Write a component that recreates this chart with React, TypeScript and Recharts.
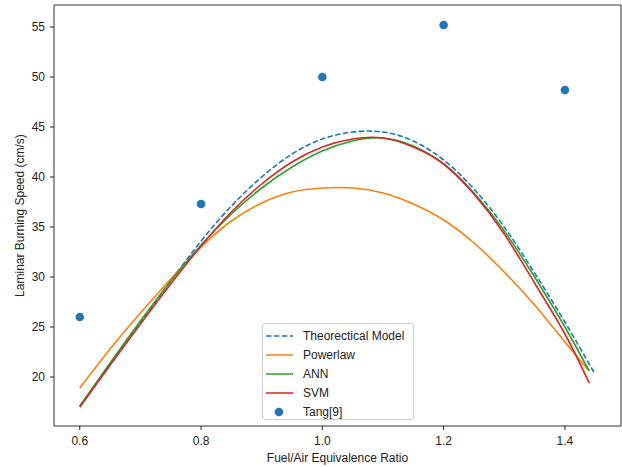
import {
  ComposedChart,
  Line,
  Scatter,
  XAxis,
  YAxis,
  ReferenceArea,
} from 'recharts'

const phi = [0.6, 0.65, 0.7, 0.75, 0.8, 0.85, 0.9, 0.95, 1.0, 1.05, 1.1, 1.15, 1.2, 1.25, 1.3, 1.35, 1.4, 1.44, 1.45]
const theoretical = [17.0, 21.2, 25.4, 29.6, 33.6, 37.1, 40.0, 42.3, 43.8, 44.5, 44.5, 43.6, 41.7, 38.8, 35.0, 30.4, 25.5, 21.3, 20.3]
const powerlaw = [18.9, 22.8, 26.4, 29.8, 33.0, 35.6, 37.4, 38.5, 38.9, 38.9, 38.4, 37.3, 35.7, 33.4, 30.5, 27.2, 23.5, 20.6, null]
const ann = [17.1, 21.4, 25.6, 29.6, 33.2, 36.3, 38.9, 41.0, 42.6, 43.6, 43.9, 43.1, 41.3, 38.4, 34.6, 30.0, 25.0, 20.6, null]
const svm = [17.0, 21.2, 25.3, 29.3, 33.1, 36.5, 39.3, 41.5, 43.0, 43.8, 43.9, 43.0, 41.3, 38.3, 34.3, 29.4, 24.3, 19.4, null]

const tangPhi = [0.6, 0.8, 1.0, 1.2, 1.4]
const tangSpeed = [26.0, 37.3, 50.0, 55.2, 48.7]

const xTicks = [0.6, 0.8, 1.0, 1.2, 1.4]
const yTicks = [20, 25, 30, 35, 40, 45, 50, 55]

const data = phi.map((x, i) => ({
  x,
  theoretical: theoretical[i],
  powerlaw: powerlaw[i],
  ann: ann[i],
  svm: svm[i],
}))
const tangData = tangPhi.map((x, i) => ({ x, tang: tangSpeed[i] }))

const X_MIN = 0.5575
const X_MAX = 1.4925
const Y_MIN = 15.1
const Y_MAX = 57.2

const FONT = '"Liberation Sans", Arial, Helvetica, sans-serif'
const tickStyle = { fontSize: 12, fill: '#222', fontFamily: FONT }

const legendItems = [
  { label: 'Theorectical Model', color: '#1f77b4', kind: 'dash' },
  { label: 'Powerlaw', color: '#ff7f0e', kind: 'line' },
  { label: 'ANN', color: '#2ca02c', kind: 'line' },
  { label: 'SVM', color: '#d62728', kind: 'line' },
  { label: 'Tang[9]', color: '#1f77b4', kind: 'dot' },
]

function LegendBox() {
  return (
    <div
      style={{
        position: 'absolute',
        left: 262,
        top: 323,
        width: 152,
        height: 97,
        border: '1px solid #d0d0d0',
        borderRadius: 3,
        background: 'rgba(255,255,255,0.85)',
        boxSizing: 'border-box',
        padding: '2px 0 0 0',
        fontFamily: FONT,
        fontSize: 12,
        color: '#222',
      }}
    >
      {legendItems.map((it) => (
        <div key={it.label} style={{ display: 'flex', alignItems: 'center', height: 19 }}>
          <svg width={40} height={12} style={{ flex: 'none' }}>
            {it.kind === 'dot' ? (
              <circle cx={16} cy={6} r={4.3} fill={it.color} />
            ) : (
              <line
                x1={3}
                x2={30}
                y1={6}
                y2={6}
                stroke={it.color}
                strokeWidth={1.5}
                strokeDasharray={it.kind === 'dash' ? '5.5 2.4' : undefined}
              />
            )}
          </svg>
          <span>{it.label}</span>
        </div>
      ))}
    </div>
  )
}

export default function App() {
  return (
    <div style={{ position: 'absolute', left: 0, top: 0, width: 622, height: 467, background: '#fff' }}>
      <ComposedChart width={622} height={467} data={data} margin={{ top: 5, right: 1, bottom: 0, left: 0 }}>
        <XAxis
          dataKey="x"
          type="number"
          domain={[X_MIN, X_MAX]}
          ticks={xTicks}
          tickFormatter={(v: number) => v.toFixed(1)}
          tick={tickStyle}
          tickSize={4}
          tickMargin={6}
          height={41}
          axisLine={false}
          tickLine={{ stroke: '#222' }}
          allowDataOverflow
          label={(props: any) => {
            const vb = props.viewBox
            return (
              <text
                x={vb.x + vb.width / 2}
                y={462}
                textAnchor="middle"
                fontSize={12}
                fill="#222"
                fontFamily={FONT}
              >
                Fuel/Air Equivalence Ratio
              </text>
            )
          }}
        />
        <YAxis
          type="number"
          domain={[Y_MIN, Y_MAX]}
          ticks={yTicks}
          tick={tickStyle}
          tickSize={4}
          tickMargin={5}
          width={54}
          axisLine={false}
          tickLine={{ stroke: '#222' }}
          allowDataOverflow
          label={(props: any) => {
            const vb = props.viewBox
            const cy = vb.y + vb.height / 2
            return (
              <text
                x={20}
                y={cy}
                textAnchor="middle"
                dominantBaseline="central"
                transform={`rotate(-90, 20, ${cy})`}
                fontSize={12}
                fill="#222"
                fontFamily={FONT}
              >
                Laminar Burning Speed (cm/s)
              </text>
            )
          }}
        />
        <Line
          type="natural"
          dataKey="theoretical"
          stroke="#1f77b4"
          strokeWidth={1.6}
          strokeDasharray="5.5 2.4"
          dot={false}
          isAnimationActive={false}
        />
        <Line type="natural" dataKey="powerlaw" stroke="#ff7f0e" strokeWidth={1.6} dot={false} isAnimationActive={false} />
        <Line type="natural" dataKey="ann" stroke="#2ca02c" strokeWidth={1.6} dot={false} isAnimationActive={false} />
        <Line type="natural" dataKey="svm" stroke="#d62728" strokeWidth={1.6} dot={false} isAnimationActive={false} />
        <Scatter
          data={tangData}
          dataKey="tang"
          fill="#1f77b4"
          shape={(p: any) => <circle cx={p.cx} cy={p.cy} r={4.3} fill="#1f77b4" />}
          isAnimationActive={false}
        />
        <ReferenceArea
          x1={X_MIN}
          x2={X_MAX}
          y1={Y_MIN}
          y2={Y_MAX}
          fill="none"
          fillOpacity={0}
          stroke="#333"
          strokeWidth={1}
          ifOverflow="visible"
        />
      </ComposedChart>
      <LegendBox />
    </div>
  )
}
